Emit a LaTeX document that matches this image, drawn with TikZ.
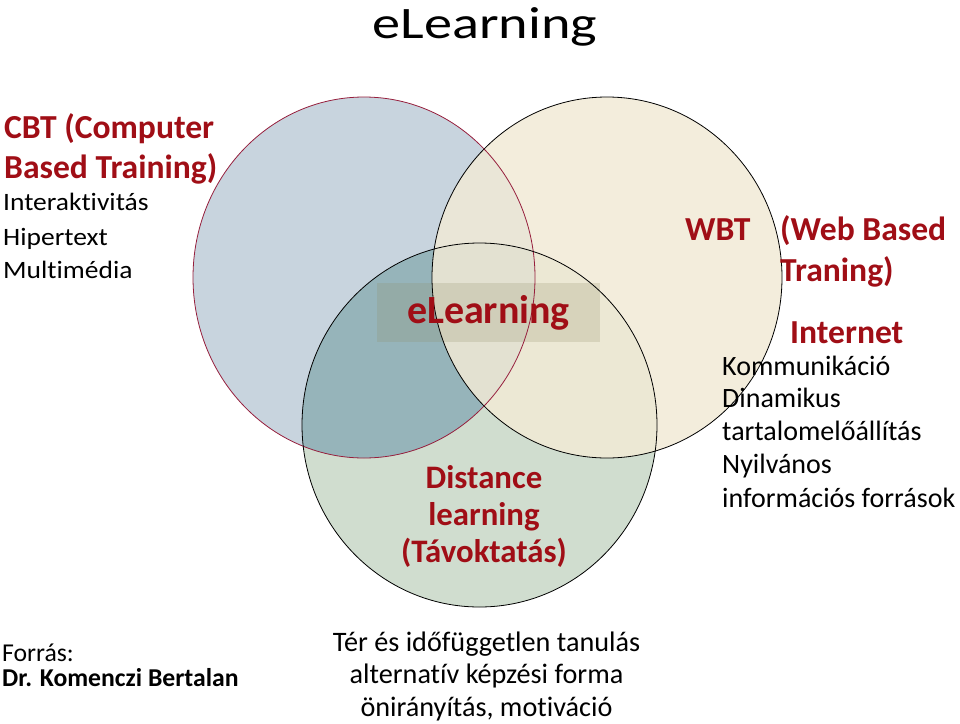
\documentclass[tikz,border=0pt]{standalone}
\usepackage{fontspec}
\setmainfont{Carlito}[Ligatures=NoCommon]
\newfontfamily\wide{Carlito}[FakeStretch=1.25, Ligatures=NoCommon]
\newfontfamily\semiwide{Carlito}[FakeStretch=1.1, Ligatures=NoCommon]
\definecolor{dred}{RGB}{160,14,22}
\definecolor{bluef}{RGB}{200,212,222}
\definecolor{greenf}{RGB}{208,221,207}
\definecolor{tealf}{RGB}{150,180,186}
\definecolor{beigef}{RGB}{241,234,214}
\definecolor{rimred}{RGB}{150,30,60}
\tikzset{
  txt/.style={inner sep=0pt, anchor=base west},
  redhead/.style={txt, text=dred, font=\bfseries\fontsize{33.6}{38}\selectfont},
  leftbody/.style={txt, font=\semiwide\fontsize{25}{29}\selectfont},
  rightbody/.style={txt, font=\fontsize{28}{32}\selectfont},
  midred/.style={inner sep=0pt, anchor=base, text=dred, font=\bfseries\fontsize{32.8}{36}\selectfont},
  bottomtxt/.style={inner sep=0pt, anchor=base, font=\fontsize{28.2}{32}\selectfont},
  src/.style={txt, font=\fontsize{25.7}{29}\selectfont},
}
\begin{document}
\begin{tikzpicture}[x=1pt,y=-1pt]
\useasboundingbox (0,0) rectangle (960,723);
% fills
\fill[bluef] (364,277.5) ellipse [x radius=171, y radius=180.5];
\fill[greenf] (479.5,425) ellipse [x radius=177.5, y radius=182];
\begin{scope}
  \clip (364,277.5) ellipse [x radius=171, y radius=180.5];
  \fill[tealf] (479.5,425) ellipse [x radius=177.5, y radius=182];
\end{scope}
\fill[beigef, opacity=0.85] (607,277.5) ellipse [x radius=175, y radius=180.5];
% label band
\fill[gray!70!olive, opacity=0.22] (377,283) rectangle (600,342);
% outlines
\draw[rimred, line width=0.8pt] (364,277.5) ellipse [x radius=171, y radius=180.5];
\draw[black, line width=0.8pt] (479.5,425) ellipse [x radius=177.5, y radius=182];
\draw[black, line width=0.8pt] (607,277.5) ellipse [x radius=175, y radius=180.5];
% title
\node[inner sep=0pt, anchor=base, font=\wide\fontsize{45}{50}\selectfont] (title) at (485,38) {eLearning};
% CBT
\node[redhead] (cbt1) at (4,138) {CBT (Computer};
\node[redhead] (cbt2) at (4,178.3) {Based Training)};
\node[leftbody] (c1) at (3,210) {Interaktivitás};
\node[leftbody] (c2) at (3,245) {Hipertext};
\node[leftbody] (c3) at (3,278) {Multimédia};
% WBT
\node[redhead] (wbt1) at (685,240) {WBT};
\node[redhead] (wbt2) at (780,240) {(Web Based};
\node[redhead] (wbt3) at (780,281.5) {Traning)};
\node[redhead] (inet) at (790,343) {Internet};
\node[rightbody] (w1) at (722,375) {Kommunikáció};
\node[rightbody] (w2) at (722,407.5) {Dinamikus};
\node[rightbody] (w3) at (722,440.5) {tartalomelőállítás};
\node[rightbody] (w4) at (722,473.5) {Nyilvános};
\node[rightbody] (w5) at (722,507) {információs források};
% middle
\node[inner sep=0pt, anchor=base, text=dred, font=\bfseries\fontsize{40}{44}\selectfont] (mid) at (488.5,323) {eLearning};
\node[midred] (d1) at (484,488) {Distance};
\node[midred] (d2) at (484,525) {learning};
\node[midred] (d3) at (484,562) {(Távoktatás)};
% bottom
\node[bottomtxt] (b1) at (486.5,651) {Tér és időfüggetlen tanulás};
\node[bottomtxt] (b2) at (486.5,683.5) {alternatív képzési forma};
\node[bottomtxt] (b3) at (486.5,716) {önirányítás, motiváció};
\node[src] (s1) at (2,661.7) {Forrás:};
\node[src, font=\bfseries\fontsize{25.7}{29}\selectfont] (s2) at (2,686.7) {Dr. Komenczi Bertalan};
\end{tikzpicture}
\end{document}
